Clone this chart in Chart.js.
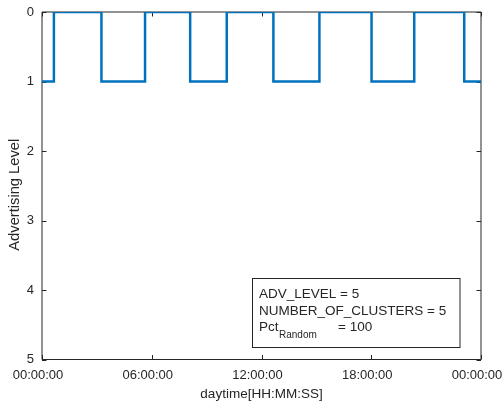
<!DOCTYPE html>
<html lang="en">
<head>
    <meta charset="UTF-8">
    <title>Advertising Level</title>
    <script src="https://cdn.jsdelivr.net/npm/chart.js"></script>
    <style>
        html, body { margin: 0; padding: 0; background: #fff; }
        #wrap { width: 503px; height: 405px; }
    </style>
</head>
<body>
    <div id="wrap"><canvas id="advChart" width="503" height="405"></canvas></div>

    <script>
        // level changes: time of change and level held from then on
        const switchTimes = ['00:00:00', '00:39:00', '03:15:00', '05:38:00', '08:06:00', '10:06:00',
                             '12:39:00', '15:10:00', '18:01:00', '20:21:00', '23:05:00', '24:00:00'];
        const advLevel = [1, 0, 1, 0, 1, 0, 1, 0, 1, 0, 1, 1];
        const xTickLabels = ['00:00:00', '06:00:00', '12:00:00', '18:00:00', '00:00:00'];
        const yTickValues = [0, 1, 2, 3, 4, 5];
        const infoLines = ['ADV_LEVEL = 5', 'NUMBER_OF_CLUSTERS = 5'];
        const yTitle = 'Advertising Level';

        const toHours = s => {
            const [h, m, sec] = s.split(':').map(Number);
            return h + m / 60 + sec / 3600;
        };
        const points = switchTimes.map((t, i) => ({ x: toHours(t), y: advLevel[i] }));

        const ink = '#262626';
        const fontFamily = '"Liberation Sans", Arial, Helvetica, sans-serif';

        const noPad = s => {
            s.paddingLeft = 0; s.paddingRight = 0;
            s.paddingTop = 0; s.paddingBottom = 0;
        };

        // MATLAB-like box with inward ticks on all four sides
        const boxPlugin = {
            id: 'boxPlugin',
            beforeDatasetsDraw(chart) {
                const { ctx, chartArea: a, scales } = chart;
                const len = 4.5;
                ctx.save();
                ctx.strokeStyle = ink;
                ctx.lineWidth = 1;
                ctx.beginPath();
                ctx.rect(a.left, a.top, a.right - a.left, a.bottom - a.top);
                scales.x.ticks.forEach(t => {
                    const px = Math.round(scales.x.getPixelForValue(t.value)) + 0.5;
                    ctx.moveTo(px, a.bottom); ctx.lineTo(px, a.bottom - len);
                    ctx.moveTo(px, a.top); ctx.lineTo(px, a.top + len);
                });
                scales.y.ticks.forEach(t => {
                    const py = Math.round(scales.y.getPixelForValue(t.value)) + 0.5;
                    ctx.moveTo(a.left, py); ctx.lineTo(a.left + len, py);
                    ctx.moveTo(a.right, py); ctx.lineTo(a.right - len, py);
                });
                ctx.stroke();

                // y axis title, a little below the axis centre as in the original
                ctx.fillStyle = ink;
                ctx.font = '14.7px ' + fontFamily;
                ctx.textAlign = 'center';
                ctx.textBaseline = 'middle';
                ctx.translate(14.5, (a.top + a.bottom) / 2 + 9);
                ctx.rotate(-Math.PI / 2);
                ctx.fillText(yTitle, 0, 0);
                ctx.restore();
            },
            afterDraw(chart) {
                const { ctx } = chart;
                ctx.save();
                ctx.fillStyle = '#fff';
                ctx.fillRect(252, 278.5, 208, 69);
                ctx.strokeStyle = ink;
                ctx.lineWidth = 1;
                ctx.strokeRect(252.5, 278.5, 207.5, 69);
                ctx.fillStyle = ink;
                ctx.textBaseline = 'alphabetic';
                ctx.font = '13.5px ' + fontFamily;
                ctx.fillText(infoLines[0], 259, 298);
                ctx.fillText(infoLines[1], 259, 315);
                ctx.fillText('Pct', 259, 331);
                ctx.font = '10px ' + fontFamily;
                ctx.fillText('Random', 279, 338);
                ctx.font = '13.5px ' + fontFamily;
                ctx.fillText('= 100', 338, 331);
                ctx.restore();
            }
        };

        const ctx = document.getElementById('advChart').getContext('2d');
        new Chart(ctx, {
            type: 'line',
            data: {
                datasets: [{
                    label: 'Advertising Level',
                    data: points,
                    borderColor: '#0072BD',
                    borderWidth: 2.5,
                    stepped: 'before',
                    pointRadius: 0,
                    fill: false
                }]
            },
            options: {
                responsive: false,
                animation: false,
                layout: { padding: { left: 0, right: 22, top: 12, bottom: 0 } },
                plugins: { legend: { display: false }, tooltip: { enabled: false } },
                scales: {
                    x: {
                        type: 'linear',
                        min: 0,
                        max: 24,
                        afterFit: s => { s.height = 45.5; noPad(s); },
                        afterBuildTicks: s => { s.ticks = xTickLabels.map((l, i) => ({ value: i * 6 })); },
                        grid: { display: false, drawTicks: false },
                        border: { display: false },
                        ticks: {
                            autoSkip: false,
                            maxRotation: 0,
                            padding: 8,
                            labelOffset: -4,
                            color: ink,
                            font: { family: fontFamily, size: 13 },
                            callback: (v, i) => xTickLabels[i]
                        },
                        title: {
                            display: true,
                            text: 'daytime[HH:MM:SS]',
                            color: ink,
                            padding: { top: 0, bottom: 3 },
                            font: { family: fontFamily, size: 13.5 }
                        }
                    },
                    y: {
                        type: 'linear',
                        reverse: true,
                        min: 0,
                        max: 5,
                        afterFit: s => { s.width = 42; noPad(s); },
                        afterBuildTicks: s => { s.ticks = yTickValues.map(v => ({ value: v })); },
                        grid: { display: false, drawTicks: false },
                        border: { display: false },
                        ticks: {
                            padding: 8,
                            color: ink,
                            font: { family: fontFamily, size: 13 }
                        }
                    }
                }
            },
            plugins: [boxPlugin]
        });
    </script>
</body>
</html>
